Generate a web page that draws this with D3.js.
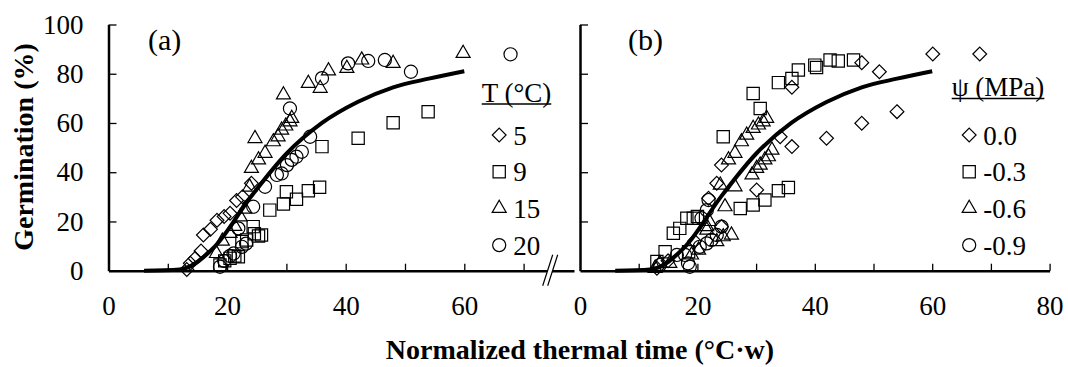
<!DOCTYPE html>
<html>
<head>
<meta charset="utf-8">
<script src="https://cdn.jsdelivr.net/npm/d3@7"></script>
<style>
  body { margin: 0; background: #fff; }
  svg text { font-family: "Liberation Serif", "Times New Roman", Times, serif; fill: #000; }
</style>
</head>
<body>
<svg id="chart" width="1068" height="367"></svg>
<script>
// model curve (same in both panels)
const curveX = [6, 12, 18, 24, 30, 36, 42, 48, 54, 60];
const curveY = [0, 0.5, 10, 30, 47.5, 60, 68.5, 74.5, 78, 81];

// panel (a): temperature series, [thermal time, germination %]
const t5 = [[13.2,0.5],[13.8,3],[14.6,5],[15.6,8],[16.0,14.5],[17.2,16.8],[18.3,20.5],[19.5,22],[20.5,23.3],[21.6,28.5],[22.6,30],[24.1,35.5]];
const t9 = [[18.8,2.3],[19.6,4],[20.5,5.0],[21.3,6],[21.9,5.7],[22.5,11.8],[23.3,12.5],[24.4,17.9],[24.6,15],[25.3,14.1],[25.8,14.5],[27.2,24.6],[29.5,27.1],[30.0,32.1],[31.7,29.0],[33.7,32.5],[35.6,33.9],[36.0,50.4],[42.1,53.8],[48.0,60.1],[53.9,64.6]];
const t15 = [[18.2,7.0],[19.2,12],[20.5,15.2],[21.3,18],[22.2,21.9],[23.0,25],[23.8,34],[24.1,41.6],[24.7,53.7],[25.3,45],[26.4,47.7],[27.8,52.4],[28.6,54.4],[29.2,57.1],[29.5,71.4],[29.9,58.8],[30.6,60.5],[30.9,61.9],[33.7,76.1],[35.7,74.1],[37.1,81.2],[40.2,82.2],[42.7,85.6],[48.0,84.2],[59.8,88.3]];
const t20 = [[18.8,1.6],[19.5,4],[20.5,6],[21.1,7],[21.9,17.2],[22.5,9.7],[23.2,11],[24.4,26],[26.4,34.1],[28.4,38.9],[29.2,39.5],[30.1,42.9],[30.9,45],[31.7,46.3],[32.6,48.3],[34.0,54.4],[30.6,65.9],[36.0,78.2],[40.4,84.2],[43.8,85.2],[46.6,85.6],[51.0,80.8],[67.8,87.9]];

// panel (b): water potential series
const p00 = [[13.1,1],[15,4],[19.5,12],[21.9,29.4],[23.3,35.5],[24.1,42.9],[24.1,17.9],[30.1,32.8],[34.1,54.4],[36.1,50.4],[36.1,74.5],[42.0,53.8],[48.0,59.9],[54.0,64.6],[48.0,84.5],[51.0,80.8],[60.1,88],[68.1,88]];
const p03 = [[13.1,3.7],[14.5,7.7],[15.9,15.2],[17.0,17.2],[18.2,21.3],[19.3,21.3],[20.0,22],[18.5,7.7],[24.4,54.4],[27.3,25.3],[29.5,26.7],[31.5,28.7],[33.8,32.5],[35.5,33.8],[29.5,72],[30.7,65.9],[33.8,76.4],[36.1,78.1],[37.2,81.5],[40.0,83.5],[40.3,82.5],[42.6,85.6],[44.0,85.2],[46.6,85.6]];
const p06 = [[12.8,1],[13.6,3],[15.3,3],[19.0,6.4],[20.2,8.4],[21.6,17.9],[23.3,11.8],[24.4,13.8],[25.8,14.5],[24.7,26],[23.9,34.8],[26.4,34.1],[25.3,45],[26.4,47.7],[27.5,52.4],[28.4,55.1],[29.5,57.8],[30.4,59.2],[31.2,60.5],[31.8,61.9],[29.3,38.9],[30.1,41.6],[30.7,42.9],[31.5,45],[32.1,46.3],[32.7,49],[21.6,16.5],[22.0,20]];
const p09 = [[13.6,2.3],[16.5,6.4],[18.4,3],[18.7,1.6],[17.9,6.4],[20.4,9.7],[21.6,11.1],[22.4,12.5],[23.3,14.5],[20.7,21.3],[21.6,24.6],[21.9,28.7],[24.1,17.9]];

const tempLabels = ['5', '9', '15', '20'];
const psiLabels = ['0.0', '-0.3', '-0.6', '-0.9'];
const yTicks = [0, 20, 40, 60, 80, 100];

const svg = d3.select('#chart');
const y = d3.scaleLinear().domain([0, 100]).range([270.7, 24.5]);
const xA = d3.scaleLinear().domain([0, 78.5]).range([108.5, 574]);
const xB = d3.scaleLinear().domain([0, 80]).range([580, 1049.6]);

// square-ish diamond like the original markers
const diamond = {
  draw(ctx, size) {
    const r = Math.sqrt(size) / 2;
    ctx.moveTo(0, -r); ctx.lineTo(r, 0); ctx.lineTo(0, r); ctx.lineTo(-r, 0); ctx.closePath();
  }
};
const shapes = [
  d3.symbol().type(diamond).size(190),
  d3.symbol().type(d3.symbolSquare).size(150),
  d3.symbol().type(d3.symbolTriangle).size(85),
  d3.symbol().type(d3.symbolCircle).size(135)
];

function panel(x, series, tickEnd, labels, tag, tagX, legendTitle, legX, titleY) {
  // x axis ticks (inward)
  const tv = d3.range(10, tickEnd + 1, 10);
  svg.append('g')
    .attr('transform', 'translate(0,' + y(0) + ')')
    .call(d3.axisBottom(x).tickValues(tv).tickSize(-7).tickSizeOuter(0).tickFormat(''))
    .call(g => g.select('.domain').attr('stroke-width', 2.5))
    .call(g => g.selectAll('.tick line').attr('stroke-width', 1.3));
  svg.append('g')
    .attr('transform', 'translate(0,' + y(0) + ')')
    .call(d3.axisBottom(x).tickValues(d3.range(0, tickEnd + 1, 20)).tickSize(0).tickPadding(25))
    .call(g => g.select('.domain').remove())
    .call(g => g.selectAll('text').attr('font-size', 27));
  // y axis
  svg.append('g')
    .attr('transform', 'translate(' + x(0) + ',0)')
    .call(d3.axisLeft(y).tickValues(yTicks.slice(1)).tickSize(-8).tickSizeOuter(0).tickFormat(''))
    .call(g => g.select('.domain').attr('stroke-width', 2.5))
    .call(g => g.selectAll('.tick line').attr('stroke-width', 1.3));

  // model curve
  svg.append('path')
    .datum(curveX.map((d, i) => [d, curveY[i]]))
    .attr('fill', 'none')
    .attr('stroke', '#000')
    .attr('stroke-width', 4)
    .attr('stroke-linejoin', 'round')
    .attr('d', d3.line().curve(d3.curveMonotoneX).x(d => x(d[0])).y(d => y(d[1])));

  // observed points
  series.forEach((pts, i) => {
    svg.append('g').selectAll('path')
      .data(pts)
      .join('path')
      .attr('transform', d => 'translate(' + x(d[0]) + ',' + y(d[1]) + ')')
      .attr('d', shapes[i]())
      .attr('fill', 'none')
      .attr('stroke', '#000')
      .attr('stroke-width', 1.2);
  });

  svg.append('text').attr('x', tagX).attr('y', 50).attr('font-size', 30).text(tag);

  // legend
  const t = svg.append('text').attr('x', legX).attr('y', titleY).attr('font-size', 27).text(legendTitle);
  const w = t.node().getComputedTextLength();
  svg.append('line').attr('x1', legX).attr('x2', legX + w)
    .attr('y1', titleY + 2.5).attr('y2', titleY + 2.5)
    .attr('stroke', '#000').attr('stroke-width', 1.5);
  labels.forEach((lab, i) => {
    const cy = 135 + i * 36.7;
    svg.append('path')
      .attr('transform', 'translate(' + (legX + 17.5) + ',' + cy + ')')
      .attr('d', shapes[i]())
      .attr('fill', 'none').attr('stroke', '#000').attr('stroke-width', 1.2);
    svg.append('text').attr('x', legX + 31.5).attr('y', cy + 9.5).attr('font-size', 27).text(lab);
  });
}

panel(xA, [t5, t9, t15, t20], 70, tempLabels, '(a)', 148, 'T (°C)', 481.7, 101.5);
panel(xB, [p00, p03, p06, p09], 80, psiLabels, '(b)', 628, 'ψ (MPa)', 951.7, 96);

// y tick labels (left panel only)
svg.append('g')
  .attr('transform', 'translate(' + xA(0) + ',0)')
  .call(d3.axisLeft(y).tickValues(yTicks).tickSize(0).tickPadding(25))
  .call(g => g.select('.domain').remove())
  .call(g => g.selectAll('text').attr('font-size', 27));

// axis break mark
const bx = 547.7, by = y(0);
svg.append('path')
  .attr('d', 'M' + (bx - 5) + ',' + (by + 15) + 'L' + (bx + 5) + ',' + (by - 16) + 'L' + (bx + 10) + ',' + (by - 16) + 'L' + bx + ',' + (by + 15) + 'Z')
  .attr('fill', '#fff').attr('stroke', 'none');
svg.append('path')
  .attr('d', 'M' + (bx - 5) + ',' + (by + 15) + 'L' + (bx + 5) + ',' + (by - 16) + 'M' + bx + ',' + (by + 15) + 'L' + (bx + 10) + ',' + (by - 16))
  .attr('fill', 'none').attr('stroke', '#000').attr('stroke-width', 1.2);

// axis titles
svg.append('text')
  .attr('transform', 'translate(33,147) rotate(-90)')
  .attr('text-anchor', 'middle').attr('font-size', 28).attr('font-weight', 'bold')
  .text('Germination (%)');
svg.append('text')
  .attr('x', 580).attr('y', 359)
  .attr('text-anchor', 'middle').attr('font-size', 28).attr('font-weight', 'bold')
  .text('Normalized thermal time (°C·w)');
</script>
</body>
</html>
